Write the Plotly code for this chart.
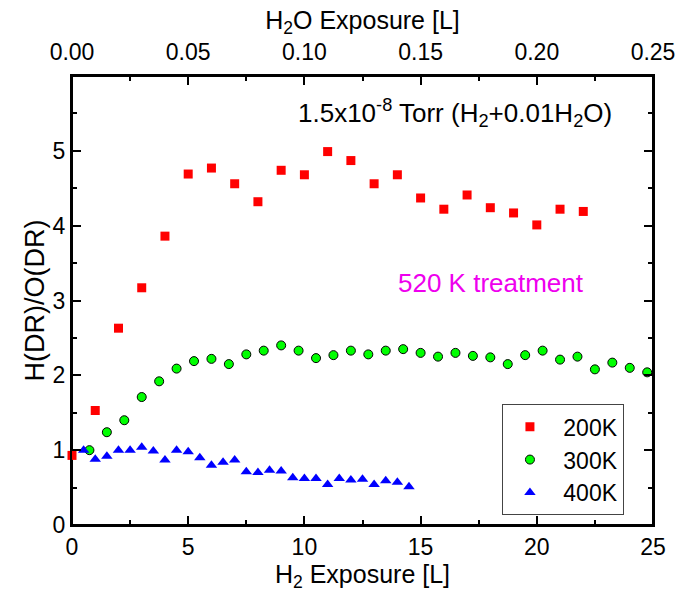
import plotly.graph_objects as go

# H2 exposure (L) and H(DR)/O(DR) ratio for each adsorption temperature
h2_200k = [0, 1, 2, 3, 4, 5, 6, 7, 8, 9, 10, 11, 12, 13, 14, 15, 16, 17, 18, 19, 20, 21, 22]
ratio_200k = [0.93, 1.53, 2.63, 3.17, 3.86, 4.69, 4.77, 4.56, 4.32, 4.74, 4.68, 4.99,
              4.87, 4.56, 4.68, 4.37, 4.22, 4.41, 4.24, 4.17, 4.01, 4.22, 4.19]

h2_300k = [0.75, 1.5, 2.25, 3.0, 3.75, 4.5, 5.25, 6.0, 6.75, 7.5, 8.25, 9.0, 9.75, 10.5,
           11.25, 12.0, 12.75, 13.5, 14.25, 15.0, 15.75, 16.5, 17.25, 18.0, 18.75, 19.5,
           20.25, 21.0, 21.75, 22.5, 23.25, 24.0, 24.75]
ratio_300k = [1.00, 1.24, 1.40, 1.71, 1.92, 2.09, 2.19, 2.22, 2.15, 2.28, 2.33, 2.40, 2.33,
              2.23, 2.27, 2.33, 2.28, 2.33, 2.35, 2.30, 2.25, 2.30, 2.26, 2.24, 2.15, 2.27,
              2.33, 2.21, 2.25, 2.08, 2.17, 2.10, 2.04]

h2_400k = [0.5, 1.0, 1.5, 2.0, 2.5, 3.0, 3.5, 4.0, 4.5, 5.0, 5.5, 6.0, 6.5, 7.0, 7.5, 8.0,
           8.5, 9.0, 9.5, 10.0, 10.5, 11.0, 11.5, 12.0, 12.5, 13.0, 13.5, 14.0, 14.5]
ratio_400k = [1.00, 0.88, 0.92, 1.00, 1.00, 1.04, 0.99, 0.87, 1.00, 0.98, 0.90, 0.80, 0.84,
              0.87, 0.71, 0.70, 0.73, 0.72, 0.63, 0.62, 0.62, 0.54, 0.62, 0.60, 0.61, 0.54,
              0.59, 0.57, 0.51]

series_names = ["200K", "300K", "400K"]
x_range = [0, 25]
y_range = [0, 6]
y_ticks = [0, 1, 2, 3, 4, 5]
h2_ticks = [0, 5, 10, 15, 20, 25]
h2o_ticks = [0.00, 0.05, 0.10, 0.15, 0.20, 0.25]

FONT = "Arial, Liberation Sans, sans-serif"
NB = "\u00a0"

fig = go.Figure()
# plot frame traced along the axis limits
fig.add_trace(go.Scatter(
    x=[x_range[0], x_range[1], x_range[1], x_range[0], x_range[0]],
    y=[y_range[0], y_range[0], y_range[1], y_range[1], y_range[0]],
    mode="lines", line=dict(color="black", width=2),
    showlegend=False, hoverinfo="skip", cliponaxis=False))
fig.add_trace(go.Scatter(
    x=h2_200k, y=ratio_200k, mode="markers", name=NB + series_names[0],
    marker=dict(symbol="square", size=9, color="#ff0000", line=dict(width=0)),
    cliponaxis=False))
fig.add_trace(go.Scatter(
    x=h2_300k, y=ratio_300k, mode="markers", name=NB + series_names[1],
    marker=dict(symbol="circle", size=9, color="#00ff00", line=dict(width=1, color="black")),
    cliponaxis=False))
fig.add_trace(go.Scatter(
    x=h2_400k, y=ratio_400k, mode="markers", name=NB + series_names[2],
    marker=dict(symbol="triangle-up", size=10, color="#0000ff", line=dict(width=0)),
    cliponaxis=False))
# empty traces that carry the top (H2O exposure) axis and the right-hand frame axis
fig.add_trace(go.Scatter(
    x=[h2o_ticks[0], h2o_ticks[-1]], y=[None, None], xaxis="x2", yaxis="y",
    mode="markers", showlegend=False, hoverinfo="skip"))
fig.add_trace(go.Scatter(
    x=[h2_ticks[0], h2_ticks[-1]], y=[None, None], xaxis="x", yaxis="y2",
    mode="markers", showlegend=False, hoverinfo="skip"))

axis_common = dict(
    showgrid=False, zeroline=False, showline=True, linecolor="#000000", linewidth=2,
    ticks="inside", ticklen=9, tickwidth=2, tickcolor="#000000", automargin=False,
    layer="above traces",
    tickfont=dict(family=FONT, size=23, color="black"),
)
minor_common = dict(ticks="inside", ticklen=5, tickwidth=2, tickcolor="#000000")

fig.update_layout(
    width=676, height=597,
    margin=dict(l=72, r=23, t=76, b=72),
    paper_bgcolor="white", plot_bgcolor="white",
    font=dict(family=FONT, color="black"),
    xaxis=dict(
        **axis_common, range=x_range, tickvals=h2_ticks,
        minor=dict(**minor_common, dtick=2.5),
        title=dict(text="H<sub>2</sub> Exposure [L]", font=dict(family=FONT, size=25), standoff=2),
    ),
    xaxis2=dict(
        **axis_common, range=[0, 0.25], tickvals=h2o_ticks, tickformat=".2f",
        overlaying="x", side="top", anchor="y", ticklabelstandoff=5,
        minor=dict(**minor_common, dtick=0.025),
        title=dict(text="H<sub>2</sub>O Exposure [L]", font=dict(family=FONT, size=25), standoff=2),
    ),
    yaxis=dict(
        **axis_common, range=y_range, tickvals=y_ticks,
        minor=dict(**minor_common, dtick=0.5),
        title=dict(text="H(DR)/O(DR)", font=dict(family=FONT, size=27), standoff=0),
    ),
    yaxis2=dict(
        **axis_common, range=y_range, tickvals=y_ticks, showticklabels=False,
        overlaying="y", side="right", anchor="x",
        minor=dict(**minor_common, dtick=0.5),
    ),
    legend=dict(
        x=0.74, y=0.269, xanchor="left", yanchor="top",
        bgcolor="white", bordercolor="#444444", borderwidth=1,
        font=dict(family=FONT, size=23, color="black"),
        tracegroupgap=0, itemwidth=44,
    ),
    annotations=[
        dict(text="1.5x10<sup>-8</sup> Torr (H<sub>2</sub>+0.01H<sub>2</sub>O)",
             xref="paper", yref="paper", x=(455 - 72) / 581, y=(525 - 113) / 449,
             xanchor="center", yanchor="middle", showarrow=False,
             font=dict(family=FONT, size=26, color="black")),
        dict(text="520 K treatment",
             xref="paper", yref="paper", x=(491 - 72) / 581, y=(525 - 283) / 449,
             xanchor="center", yanchor="middle", showarrow=False,
             font=dict(family=FONT, size=26, color="#ee00ee")),
    ],
)

fig.write_html("out.html")
